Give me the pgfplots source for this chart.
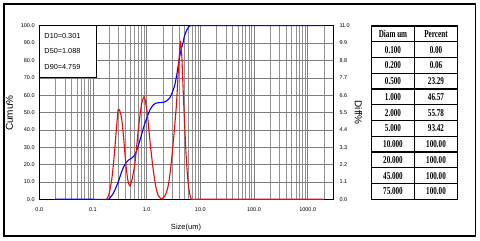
\documentclass[border=0pt]{standalone}
\usepackage{pgfplots}
\pgfplotsset{compat=1.18}
\usepackage{fontspec}
\setmainfont{Liberation Sans}
\newfontfamily\tabfont[FakeStretch=0.68]{Liberation Serif}
\definecolor{gridc}{RGB}{125,125,125}
\definecolor{gridm}{RGB}{145,145,145}
\begin{document}
\begin{tikzpicture}
\path[use as bounding box] (0pt,0pt) rectangle (480pt,241pt);
\draw[line width=1.3pt] (4pt,5pt) rectangle (475.5pt,237pt);
\begin{axis}[
  at={(39.3pt,41.7pt)}, anchor=south west, scale only axis,
  width=294pt, height=173.6pt,
  xmode=log, xmin=0.01, xmax=3000,
  major tick length=0pt, minor tick length=0pt,
  tick label style={font=\fontsize{5.5}{6}\selectfont, inner sep=0pt},
  /pgf/number format/assume math mode=true,
  ymin=0, ymax=100,
  axis line style={black, line width=0.9pt},
  xtick={0.01,0.1,1,10,100,1000},
  xticklabels={0.0,0.1,1.0,10.0,100.0,1000.0},
  minor xtick={0.02,0.03,0.04,0.05,0.06,0.07,0.08,0.09,
               0.2,0.3,0.4,0.5,0.6,0.7,0.8,0.9,
               2,3,4,5,6,7,8,9,
               20,30,40,50,60,70,80,90,
               200,300,400,500,600,700,800,900,
               2000},
  ytick={0,10,20,30,40,50,60,70,80,90,100},
  yticklabels={0.0,10.0,20.0,30.0,40.0,50.0,60.0,70.0,80.0,90.0,100.0},
  xticklabel style={anchor=north, yshift=-8pt},
  yticklabel style={anchor=east, xshift=-4.5pt},
  xmajorgrids, xminorgrids, ymajorgrids,
  major grid style={gridc, line width=0.55pt},
  minor grid style={gridm, line width=0.5pt},
]
\addplot[blue, line width=1.1pt, smooth, tension=0.4] coordinates {
(0.02,0) (0.1,0) (0.19,0) (0.21,1.0) (0.24,3.5) (0.27,7) (0.3,10.5) (0.33,14.5)
(0.37,18.5) (0.41,21) (0.46,22.6) (0.5,23.3) (0.55,24.2) (0.6,25.5) (0.66,28.5)
(0.75,34) (0.85,40) (0.93,44) (1.0,46.6) (1.1,50) (1.2,52.5) (1.35,54.6)
(1.5,55.4) (1.75,55.7) (2.0,55.8) (2.3,56.5) (2.7,58.5) (3.0,61.5) (3.35,66)
(3.7,73) (4.0,80) (4.4,86.5) (4.76,90) (5.0,93.4) (5.5,97) (6.0,99.2) (6.5,100)
(10,100) (2000,100)
};
\end{axis}
\begin{axis}[
  at={(39.3pt,41.7pt)}, anchor=south west, scale only axis,
  width=294pt, height=173.6pt,
  xmode=log, xmin=0.01, xmax=3000,
  major tick length=0pt, minor tick length=0pt,
  tick label style={font=\fontsize{5.5}{6}\selectfont, inner sep=0pt},
  /pgf/number format/assume math mode=true,
  ymin=0, ymax=11,
  axis x line=none, axis y line*=right,
  axis line style={black, line width=0.9pt},
  ytick={0,1.1,2.2,3.3,4.4,5.5,6.6,7.7,8.8,9.9,11},
  yticklabels={0.0,1.1,2.2,3.3,4.4,5.5,6.6,7.7,8.8,9.9,11.0},
  yticklabel style={anchor=west, xshift=6pt},
]
\addplot[red, line width=1.1pt, smooth, tension=0.45] coordinates {
(0.18,0) (0.2,0.35) (0.223,1.22) (0.24,2.2) (0.257,3.33) (0.275,4.6) (0.296,5.70)
(0.32,5.55) (0.343,5.1) (0.37,4.0) (0.394,2.9) (0.42,1.9) (0.45,1.15) (0.489,0.84)
(0.53,1.2) (0.57,1.75) (0.606,2.3) (0.65,3.3) (0.698,4.4) (0.75,5.3) (0.807,6.05)
(0.891,6.5) (0.95,6.2) (1.026,5.45) (1.1,4.4) (1.186,3.3) (1.3,2.1) (1.43,1.1)
(1.55,0.5) (1.645,0.25) (1.8,0.08) (1.91,0.05) (2.05,0.1) (2.29,0.35) (2.5,0.8)
(2.72,1.6) (2.95,2.7) (3.13,3.6) (3.4,5.0) (3.62,6.2) (3.9,8.2) (4.15,9.6)
(4.3,10.0) (4.5,9.2) (4.75,7.2) (5.0,5.4) (5.25,3.8) (5.5,2.5) (5.8,1.4)
(6.1,0.7) (6.5,0.2) (6.9,0) (8,0) (100,0) (2000,0)
};
\end{axis}
\begin{scope}[x=1pt,y=1pt]
% statistics box
\draw[black, line width=0.8pt, fill=white] (39.3,164) rectangle (96.7,215.3);
\begin{scope}[font=\fontsize{7.3}{8}\selectfont]
\node[anchor=west, inner sep=0pt] at (44.3,205) {D10=0.301};
\node[anchor=west, inner sep=0pt] at (44.3,190.3) {D50=1.088};
\node[anchor=west, inner sep=0pt] at (44.3,174.5) {D90=4.759};
\end{scope}
% axis titles
\node[rotate=90, font=\fontsize{10}{12}\selectfont] at (9.5,128) {Cumu\%};
\node[rotate=-90, font=\fontsize{10}{12}\selectfont] at (358.5,128.5) {Diff\%};
\node[font=\fontsize{7.5}{9}\selectfont] at (186,13) {Size(um)};
% table
\begin{scope}[font=\tabfont\bfseries\fontsize{10.5}{11}\selectfont]
\def\rh{15.755}
\foreach \i in {1,...,10} {
  \draw[line width=1.1pt] (371.7,{215-\i*\rh}) -- (457.7,{215-\i*\rh});
}
\draw[line width=1.1pt] (414.3,41.7) -- (414.3,215);
\draw[line width=1.1pt] (371.7,41.7) rectangle (457.7,215);
\foreach \a/\b [count=\i from 0] in {Diam um/Percent,0.100/0.00,0.200/0.06,0.500/23.29,1.000/46.57,2.000/55.78,5.000/93.42,10.000/100.00,20.000/100.00,45.000/100.00,75.000/100.00} {
  \node[inner sep=0pt] at (393,{215-(\i+0.5)*\rh}) {\a};
  \node[inner sep=0pt] at (436,{215-(\i+0.5)*\rh}) {\b};
}
\end{scope}
\end{scope}
\end{tikzpicture}
\end{document}
